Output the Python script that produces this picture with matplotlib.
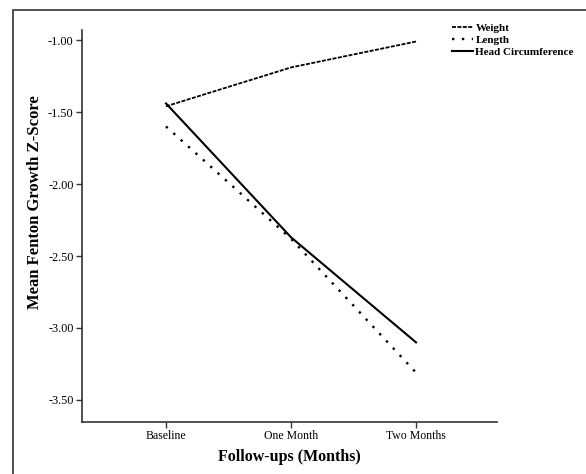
import matplotlib.pyplot as plt
from matplotlib.patches import Rectangle

# Mean Fenton growth z-scores per follow-up
followups = ['Baseline', 'One Month', 'Two Months']
weight = [-1.46, -1.19, -1.01]
length = [-1.60, -2.38, -3.31]
head_circ = [-1.44, -2.37, -3.10]
yticks = [-1.00, -1.50, -2.00, -2.50, -3.00, -3.50]

plt.rcParams['font.family'] = ['Liberation Serif', 'DejaVu Serif']

fig = plt.figure(figsize=(5.86, 4.74), dpi=100)
ax = fig.add_axes([0.1399, 0.1097, 0.7083, 0.827])

x = list(range(len(followups)))
ax.plot(x, weight, color='black', lw=1.3, linestyle=(0, (2.2, 0.8)), label='Weight')
ax.plot(x, length, color='black', lw=1.7, linestyle=(0, (1, 3.2)), label='Length')
ax.plot(x, head_circ, color='black', lw=1.5, linestyle='-', label='Head Circumference')

ax.set_xlim(-0.672, 2.648)
ax.set_ylim(-3.653, -0.93)
ax.set_xticks(x)
ax.set_xticklabels(followups, fontsize=8.5)
ax.set_yticks(yticks)
ax.set_yticklabels([f'{v:.2f}' for v in yticks], fontsize=8.8)
ax.tick_params(direction='out', length=4, width=1, color='#333333', pad=2)

for s in ['top', 'right']:
    ax.spines[s].set_visible(False)
for s in ['left', 'bottom']:
    ax.spines[s].set_color('#333333')
    ax.spines[s].set_linewidth(1.2)

ax.set_xlabel('Follow-ups (Months)', fontsize=11.5, fontweight='bold', labelpad=5)
ax.set_ylabel('Mean Fenton Growth Z-Score', fontsize=12, fontweight='bold')
ax.yaxis.set_label_coords(-0.094, 0.561)

leg = fig.legend(loc='upper left', bbox_to_anchor=(0.762, 0.962), frameon=False,
                 prop={'size': 8, 'weight': 'bold'}, handlelength=1.9,
                 handletextpad=0.2, labelspacing=0.2, borderpad=0)

# outer frame around the figure (left and top edges visible)
fig.patches.append(Rectangle((13 / 586, -0.05), 1.2, 1 - 10 / 474 + 0.05,
                             transform=fig.transFigure, fill=False,
                             edgecolor='#333333', lw=1.2))

fig.savefig('out.png', dpi=100)
